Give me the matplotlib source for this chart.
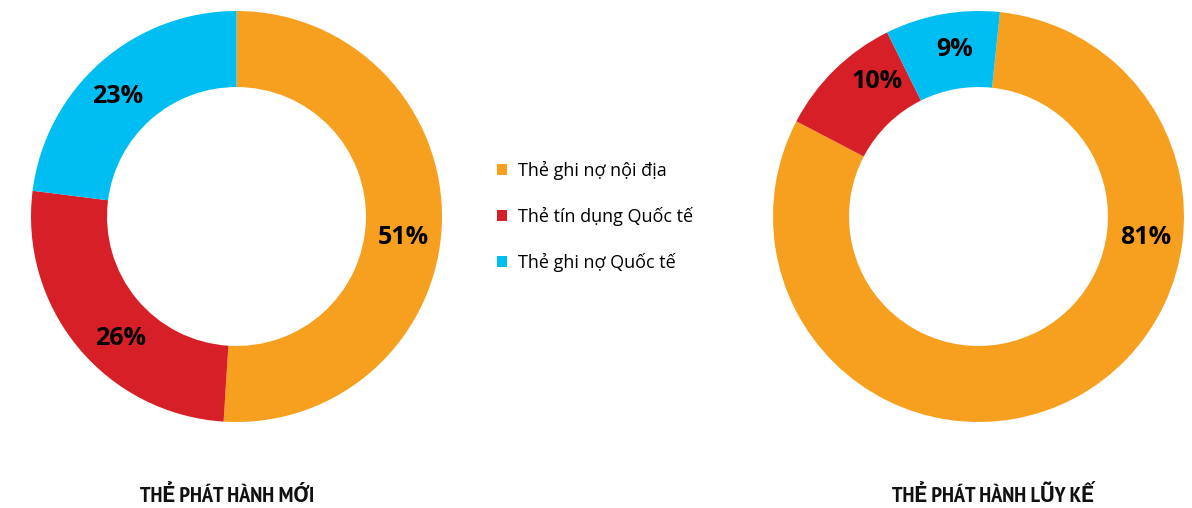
import numpy as np
import matplotlib.pyplot as plt
from matplotlib import font_manager

# data
categories = ["Thẻ ghi nợ nội địa", "Thẻ tín dụng Quốc tế", "Thẻ ghi nợ Quốc tế"]
new_cards = [51, 26, 23]          # %
cumulative_cards = [81, 10, 9]    # %
titles = ["THẺ PHÁT HÀNH MỚI", "THẺ PHÁT HÀNH LŨY KẾ"]

colors = ["#F7A01F", "#D71F28", "#00BDF2"]
plt.rcParams['font.family'] = ['Open Sans', 'DejaVu Sans']

W, H = 1192, 508
fig = plt.figure(figsize=(W / 100, H / 100), dpi=100)


def donut(cx, cy, r, vals, start, label_angles):
    ax = fig.add_axes([(cx - r) / W, (H - cy - r) / H, 2 * r / W, 2 * r / H])
    wedges, _ = ax.pie(vals, colors=colors, startangle=start, counterclock=False,
                       radius=1, wedgeprops=dict(width=0.37, linewidth=0))
    # percentage labels placed on the ring
    for v, a in zip(vals, label_angles):
        t = np.deg2rad(a)
        ax.text(0.82 * np.cos(t), 0.82 * np.sin(t), f"{v}%", ha='center', va='center',
                fontsize=18, fontweight='bold', color='black')
    ax.set_xlim(-1, 1)
    ax.set_ylim(-1, 1)
    return wedges


w1 = donut(236.5, 216.5, 205.5, new_cards, 90, [-7, 226.5, 134.8])
w2 = donut(978.5, 216.5, 205.5, cumulative_cards, 84, [-7.3, 127, 98])

# condensed bold face for the titles, if available (Roboto fills missing Vietnamese glyphs)
narrow = [f.name for f in font_manager.fontManager.ttflist
          if 'Narrow' in f.name and f.weight in ('bold', 700, 'Bold')]
title_font = [narrow[0], 'Roboto', 'DejaVu Sans'] if narrow else ['Roboto', 'DejaVu Sans']
for x, t in zip([227, 993], titles):
    fig.text(x / W, 1 - 496 / H, t, ha='center', va='center', fontsize=16,
             fontweight='bold', family=title_font, color='#111111')

fig.legend(w1, categories, loc='center left', bbox_to_anchor=(497 / W, 1 - 216.5 / H),
           frameon=False, fontsize=13, handlelength=0.55, handleheight=0.55,
           handletextpad=0.6, labelspacing=1.5, borderpad=0, borderaxespad=0)

fig.savefig("out.png", dpi=100)
